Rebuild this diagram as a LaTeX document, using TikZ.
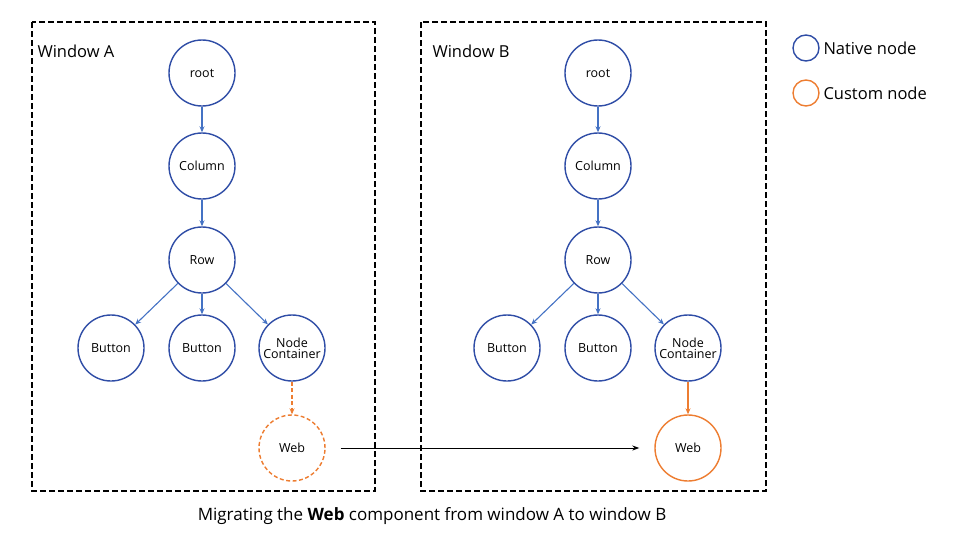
\documentclass[tikz,border=0pt]{standalone}
\usepackage{fontspec}
\setmainfont{Open Sans}
\usetikzlibrary{arrows.meta}
\definecolor{nblue}{HTML}{2F4DA6}
\definecolor{ablue}{HTML}{4472C4}
\definecolor{orng}{HTML}{ED7D31}
\begin{document}
\begin{tikzpicture}[x=1pt,y=-1pt,
 nat/.style={circle,draw=nblue,line width=1.4pt,minimum size=66pt,inner sep=0pt,font=\fontsize{12.5}{13}\selectfont,align=center},
 cus/.style={nat,draw=orng},
 win/.style={draw,dashed,line width=1.3pt,dash pattern=on 6pt off 3pt},
 ar/.style={-{Stealth[length=6pt,width=5pt]},ablue,line width=1.1pt},
 oar/.style={-{Stealth[length=6pt,width=5pt]},orng,line width=1.4pt},
 lab/.style={font=\fontsize{16.5}{18}\selectfont,anchor=west}]
\useasboundingbox (0,0) rectangle (960,541);
\draw[win] (32,22) rectangle (375,491);
\draw[win] (421,22) rectangle (766,491);
\node[lab] (wa) at (34,51) {Window A};
\node[lab] (wb) at (429,51) {Window B};
\foreach \p/\x in {a/202,b/598}{
 \node[nat] (\p root) at (\x,73) {root};
 \node[nat] (\p col) at (\x,166) {Column};
 \node[nat] (\p row) at (\x,260) {Row};
 \node[nat] (\p b1) at (\x-91,348) {Button};
 \node[nat] (\p b2) at (\x,348) {Button};
 \node[nat] (\p nc) at (\x+90,348) {Node\\[-2pt]Container};
 \draw[ar] (\p root) -- (\p col);
 \draw[ar] (\p col) -- (\p row);
 \draw[ar] (\p row) -- (\p b1);
 \draw[ar] (\p row) -- (\p b2);
 \draw[ar] (\p row) -- (\p nc);
}
\node[cus,dashed,dash pattern=on 4pt off 2.5pt] (aweb) at (292,448) {Web};
\node[cus] (bweb) at (688,448) {Web};
\draw[oar,dashed,dash pattern=on 4pt off 2.5pt] (anc) -- (aweb);
\draw[oar] (bnc) -- (bweb);
\draw[-{Stealth[length=7pt,width=5pt]},line width=1pt] (aweb.east)++(15,0) coordinate (s) -- ([xshift=-15pt]bweb.west) coordinate (e);
\node[circle,draw=nblue,line width=1.4pt,minimum size=26pt,inner sep=0pt] (l1) at (806,48) {};
\node[circle,draw=orng,line width=1.4pt,minimum size=26pt,inner sep=0pt] (l2) at (806,93) {};
\node[lab] (t1) at (820,48) {Native node};
\node[lab] (t2) at (820,93) {Custom node};
\node[font=\fontsize{17}{19}\selectfont] (cap) at (432,516) {Migrating the \textbf{Web} component from window A to window B};
\end{tikzpicture}
\end{document}
